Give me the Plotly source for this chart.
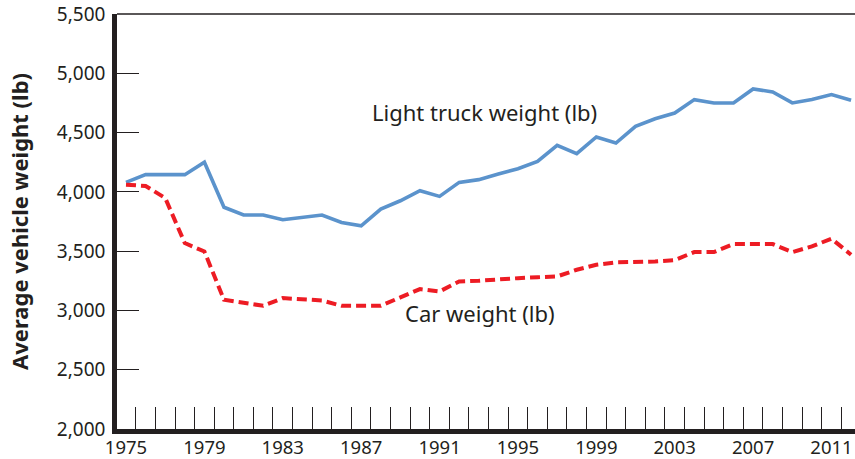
import plotly.graph_objects as go

years = list(range(1975, 2013))
truck_weight = [4080, 4145, 4145, 4145, 4250, 3870, 3805, 3805, 3765, 3785, 3805, 3742, 3714, 3855,
                3925, 4010, 3962, 4080, 4103, 4150, 4195, 4257, 4392, 4322, 4463, 4412, 4552, 4617,
                4665, 4778, 4750, 4750, 4868, 4843, 4750, 4778, 4820, 4772]
car_weight = [4060, 4050, 3948, 3568, 3497, 3090, 3065, 3039, 3104, 3090, 3084, 3039, 3039, 3039,
              3110, 3180, 3160, 3244, 3250, 3264, 3272, 3280, 3287, 3343, 3385, 3405, 3405, 3413,
              3425, 3492, 3492, 3560, 3560, 3560, 3492, 3540, 3605, 3470]
x_tick_labels = [str(y) for y in range(1975, 2012, 4)]
y_tick_vals = [2000, 2500, 3000, 3500, 4000, 4500, 5000, 5500]
y_tick_text = ["2,000", "2,500", "3,000", "3,500", "4,000", "4,500", "5,000", "5,500"]

ink = "#231f20"
font_family = "Noto Sans"
x_range = [1974.54, 2012.2]

fig = go.Figure()
fig.add_trace(go.Scatter(x=years, y=truck_weight, mode="lines",
                         line=dict(color="#5b93cc", width=3.6), showlegend=False))
fig.add_trace(go.Scatter(x=years, y=car_weight, mode="lines",
                         line=dict(color="#ed1c24", width=4, dash="10px,5px"), showlegend=False))

fig.add_annotation(x=1993.3, y=4675, text="Light truck weight (lb)", showarrow=False,
                   font=dict(size=22, color=ink, family=font_family))
fig.add_annotation(x=1993.06, y=2980, text="Car weight (lb)", showarrow=False,
                   font=dict(size=22, color=ink, family=font_family))

# thin frame line along the top of the plotting area
fig.add_shape(type="line", xref="paper", yref="paper", x0=0, x1=1, y0=1, y1=1,
              line=dict(color=ink, width=1.4))

fig.update_layout(
    width=855, height=459,
    margin=dict(l=117, r=0, t=14, b=30, autoexpand=False),
    paper_bgcolor="white", plot_bgcolor="white",
    font=dict(family=font_family, color=ink, size=19),
    xaxis=dict(
        range=x_range,
        tickvals=[int(t) for t in x_tick_labels], ticktext=x_tick_labels,
        ticks="", showgrid=False, zeroline=False, automargin=False,
        showline=True, linecolor=ink, linewidth=4.5,
        tickfont=dict(size=18.5, color=ink), ticklabeloverflow="allow",
        ticklabelstandoff=-2,
        minor=dict(ticks="inside", ticklen=22, tickwidth=1.4, tickcolor=ink,
                   tick0=1975.5, dtick=1, showgrid=False),
    ),
    yaxis=dict(
        range=[2000, 5500],
        tickvals=y_tick_vals, ticktext=y_tick_text,
        ticks="inside", ticklen=22, tickwidth=1.4, tickcolor=ink,
        showgrid=False, zeroline=False, automargin=False,
        showline=True, linecolor=ink, linewidth=4.5,
        tickfont=dict(size=19, color=ink), ticklabelstandoff=3, ticklabeloverflow="allow",
        title=dict(text="<b>Average vehicle weight (lb)</b>", font=dict(size=22, color=ink),
                   standoff=24),
    ),
)

fig.write_html("out.html", config={"displayModeBar": False},
               post_script="document.body.style.margin='0';")
